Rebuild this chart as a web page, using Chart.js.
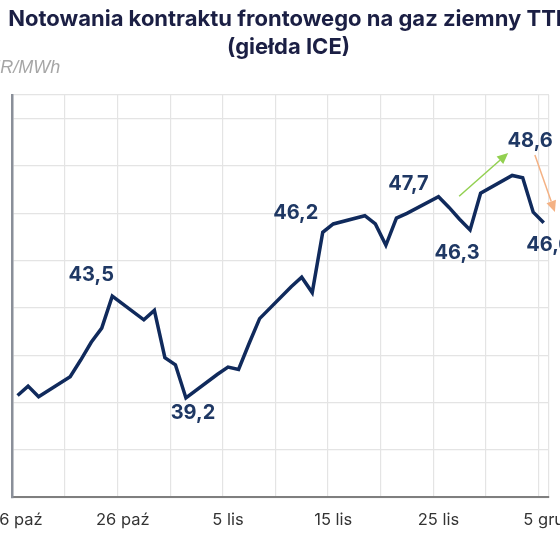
<!DOCTYPE html>
<html><head><meta charset="utf-8">
<script src="https://cdn.jsdelivr.net/npm/chart.js@4/dist/chart.umd.min.js"></script>
<style>
html,body{margin:0;padding:0;background:#fff;}
#wrap{position:relative;width:560px;height:560px;overflow:hidden;background:#fff;}
#box{position:absolute;left:-80px;top:0;width:737px;height:560px;}
</style></head><body>
<div id="wrap"><div id="box"><canvas id="c"></canvas></div></div>
<script>
const titleLines = ['Notowania kontraktu frontowego na gaz ziemny TTF', '(giełda ICE)'];
const unitLabel = 'EUR/MWh';
const dates = ['2024-10-16','2024-10-17','2024-10-18','2024-10-21','2024-10-22','2024-10-23','2024-10-24','2024-10-25',
  '2024-10-28','2024-10-29','2024-10-30','2024-10-31','2024-11-01','2024-11-04','2024-11-05','2024-11-06','2024-11-07','2024-11-08',
  '2024-11-11','2024-11-12','2024-11-13','2024-11-14','2024-11-15','2024-11-18','2024-11-19','2024-11-20','2024-11-21','2024-11-22',
  '2024-11-25','2024-11-26','2024-11-27','2024-11-28','2024-11-29','2024-12-02','2024-12-03','2024-12-04','2024-12-05'];
const prices = [39.3,39.7,39.25,40.1,40.8,41.55,42.15,43.5,
  42.5,42.9,40.9,40.6,39.2,40.2,40.5,40.4,41.5,42.55,
  43.9,44.3,43.65,46.2,46.55,46.9,46.55,45.65,46.8,47.0,
  47.7,47.25,46.75,46.3,47.85,48.6,48.5,47.05,46.6];
const tickDates = ['2024-10-16','2024-10-26','2024-11-05','2024-11-15','2024-11-25','2024-12-05'];
const tickLabels = ['16 paź','26 paź','5 lis','15 lis','25 lis','5 gru'];
const annotatedDates = ['2024-10-25','2024-11-01','2024-11-14','2024-11-25','2024-11-28','2024-12-02','2024-12-05'];
const yMin = 35, yMax = 52, yStep = 2;
const gridStepDays = 5;

const DAY = 86400000;
const t0 = Date.parse(dates[0]);
const dayOf = d => Math.round((Date.parse(d) - t0) / DAY);
const points = dates.map((d, i) => ({x: dayOf(d), y: prices[i]}));
const xMin = -0.5, xMax = dayOf(dates[dates.length - 1]) + 0.5;
const labelTickDays = tickDates.map(dayOf);
const gridDays = [];
for (let g = xMin; g <= xMax + 1e-9; g += gridStepDays) gridDays.push(g);
if (gridDays[gridDays.length - 1] < xMax - 1e-6) gridDays.push(xMax);

const fmt = v => v.toFixed(1).replace('.', ',');

// label placement offsets (px) relative to the point, and arrow annotations in data units
const labelOffsets = {
  '2024-10-25': [-21, -21], '2024-11-01': [7, 15], '2024-11-14': [-27, -19],
  '2024-11-25': [-30, -13], '2024-11-28': [-13, 23], '2024-12-02': [18, -34], '2024-12-05': [5, 22]
};
const arrows = [
  {from: [41.96, 47.72], to: [46.62, 49.55], color: '#92d050'},
  {from: [49.16, 49.46], to: [51.06, 47.06], color: '#f4b183'}
];

const overlay = {
  id: 'overlay',
  afterDatasetsDraw(chart) {
    const {ctx, chartArea, scales: {x, y}} = chart;
    ctx.save();
    ctx.font = 'italic 18px "Liberation Sans", Arial, sans-serif';
    ctx.fillStyle = '#a6a6a6';
    ctx.textAlign = 'left';
    ctx.textBaseline = 'alphabetic';
    ctx.fillText(unitLabel, chartArea.left - 37, 73);
    ctx.font = 'bold 20px Inter, "Liberation Sans", sans-serif';
    ctx.fillStyle = '#1f3864';
    ctx.textAlign = 'center';
    ctx.textBaseline = 'middle';
    annotatedDates.forEach(d => {
      const i = dates.indexOf(d);
      const off = labelOffsets[d] || [0, -20];
      const px = x.getPixelForValue(points[i].x), py = y.getPixelForValue(points[i].y);
      ctx.fillText(fmt(prices[i]), px + off[0], py + off[1]);
    });
    arrows.forEach(a => {
      const x1 = x.getPixelForValue(a.from[0]), y1 = y.getPixelForValue(a.from[1]);
      const x2 = x.getPixelForValue(a.to[0]), y2 = y.getPixelForValue(a.to[1]);
      const ang = Math.atan2(y2 - y1, x2 - x1);
      const hl = 11, hw = 5;
      const bx = x2 - hl * Math.cos(ang), by = y2 - hl * Math.sin(ang);
      ctx.strokeStyle = a.color; ctx.fillStyle = a.color; ctx.lineWidth = 1.5;
      ctx.beginPath(); ctx.moveTo(x1, y1); ctx.lineTo(bx, by); ctx.stroke();
      ctx.beginPath();
      ctx.moveTo(x2, y2);
      ctx.lineTo(bx + hw * Math.sin(ang), by - hw * Math.cos(ang));
      ctx.lineTo(bx - hw * Math.sin(ang), by + hw * Math.cos(ang));
      ctx.closePath(); ctx.fill();
    });
    ctx.restore();
  }
};

new Chart(document.getElementById('c'), {
  type: 'line',
  data: {
    datasets: [{
      data: points,
      borderColor: '#102a5c',
      borderWidth: 3.5,
      borderJoinStyle: 'miter',
      pointRadius: 0,
      tension: 0,
      fill: false,
      clip: false
    }]
  },
  options: {
    responsive: true,
    maintainAspectRatio: false,
    devicePixelRatio: 1,
    animation: false,
    layout: {padding: 0},
    plugins: {
      legend: {display: false},
      tooltip: {enabled: false},
      title: {
        display: true,
        text: titleLines,
        color: '#1b1f44',
        font: {family: 'Inter', size: 22, weight: 'bold', lineHeight: 1.25},
        padding: {top: 6, bottom: 34}
      }
    },
    scales: {
      x: {
        type: 'linear',
        min: xMin, max: xMax,
        afterBuildTicks: s => {
          const vals = [...gridDays, ...labelTickDays].sort((a, b) => a - b);
          s.ticks = vals.map(v => ({value: v}));
        },
        afterFit: s => { s.height = 62.7; },
        ticks: {
          autoSkip: false, maxRotation: 0, padding: 13,
          color: '#333333',
          font: {family: 'Inter', size: 16.5},
          callback: v => { const k = labelTickDays.indexOf(v); return k >= 0 ? tickLabels[k] : ''; }
        },
        grid: {
          drawTicks: false,
          color: c => (c.tick && labelTickDays.includes(c.tick.value) && !gridDays.includes(c.tick.value)) ? 'rgba(0,0,0,0)' : '#e4e4e4',
          lineWidth: 1.2
        },
        border: {color: '#7f7f7f', width: 2}
      },
      y: {
        min: yMin, max: yMax,
        afterBuildTicks: s => {
          const t = [];
          for (let v = yMin; v <= yMax; v += yStep) t.push({value: v});
          t.push({value: yMax});
          s.ticks = t;
        },
        afterFit: s => { s.width = 92.3; },
        ticks: {display: false},
        grid: {drawTicks: false, color: '#e4e4e4', lineWidth: 1.2},
        border: {color: '#8a8f99', width: 2.5}
      },
      yRight: {
        position: 'right',
        min: yMin, max: yMax,
        afterFit: s => { s.width = 108; },
        ticks: {display: false},
        grid: {display: false, drawTicks: false},
        border: {display: false}
      }
    }
  },
  plugins: [overlay]
});
</script>
</body></html>
